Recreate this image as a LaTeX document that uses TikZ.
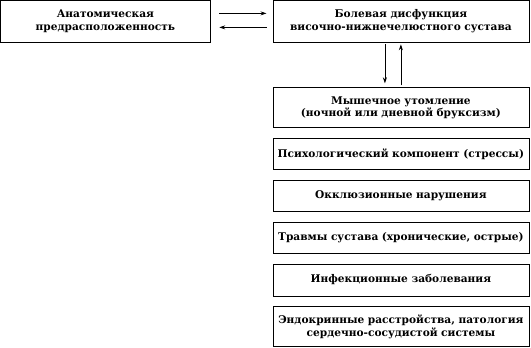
\documentclass[tikz,border=0pt]{standalone}
\usepackage{fontspec}
\setmainfont{DejaVu Serif}
\usetikzlibrary{positioning, arrows.meta}

\begin{document}
\begin{tikzpicture}[
  x=1pt, y=1pt,
  node distance=10pt,
  factorbox/.style={draw, line width=0.8pt, text width=254pt, align=center, minimum height=31pt, inner xsep=1pt, inner ysep=2pt, font=\bfseries\fontsize{10.6}{12.5}\selectfont},
  arrow/.style={-{Stealth[length=6pt,width=4pt]}, line width=0.7pt},
]
  \useasboundingbox (0,0) rectangle (531,-348);

  % Top row
  \node (anat) [factorbox, text width=207pt, minimum height=41pt, anchor=north west] at (0.5,-0.5) {Анатомическая\\предрасположенность};
  \node (pain) [factorbox, minimum height=41pt, anchor=north west] at (272.5,-0.5) {Болевая дисфункция\\височно-нижнечелюстного сустава};

  % Factor column
  \node (muscle) [factorbox, minimum height=40pt, below=45pt of pain] {Мышечное утомление\\(ночной или дневной бруксизм)};
  \node (psych) [factorbox, below=of muscle] {Психологический компонент (стрессы)};
  \node (occl) [factorbox, below=of psych] {Окклюзионные нарушения};
  \node (trauma) [factorbox, below=of occl] {Травмы сустава (хронические, острые)};
  \node (infect) [factorbox, minimum height=32pt, below=of trauma] {Инфекционные заболевания};
  \node (endo) [factorbox, minimum height=40pt, below=of infect] {Эндокринные расстройства, патология\\сердечно-сосудистой системы};

  % Arrows between anatomy and pain
  \draw [arrow] ([xshift=9pt, yshift=8pt]anat.east) -- ([xshift=-6pt, yshift=8pt]pain.west);
  \draw [arrow] ([xshift=-6pt, yshift=-6pt]pain.west) -- ([xshift=9pt, yshift=-6pt]anat.east);

  % Arrows between pain and muscle fatigue
  \draw [arrow] ([xshift=-16pt, yshift=-2pt]pain.south) -- ([xshift=-16pt, yshift=4pt]muscle.north);
  \draw [arrow] ([yshift=2pt]muscle.north) -- ([yshift=-2pt]pain.south);

\end{tikzpicture}
\end{document}
